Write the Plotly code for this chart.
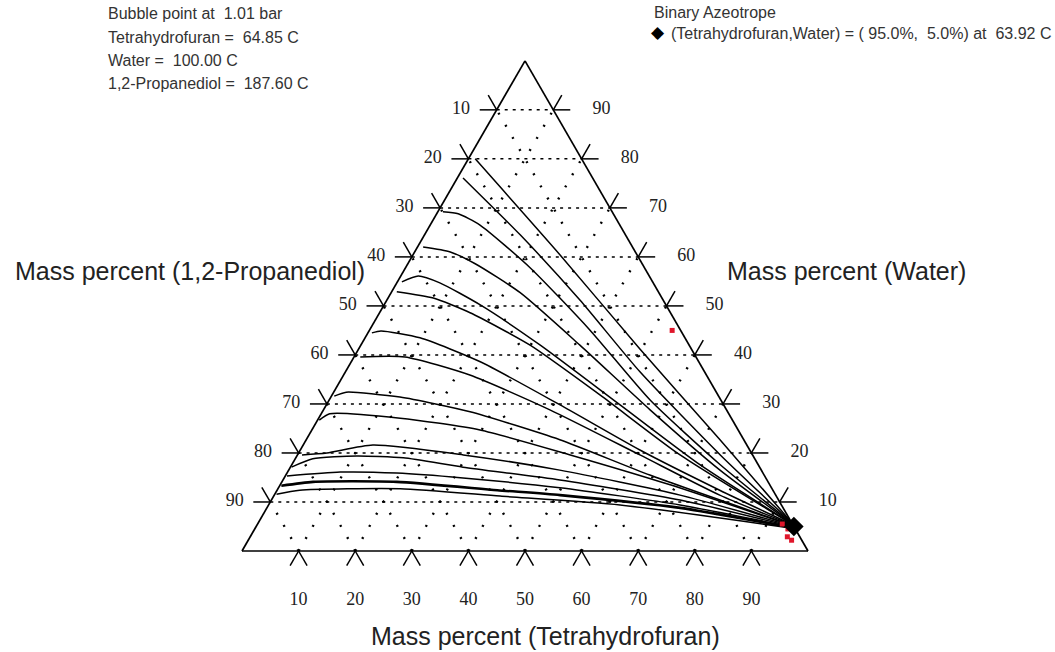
import numpy as np
import plotly.graph_objects as go

# ---------------- data (mass %, given as (Tetrahydrofuran, Water); 1,2-Propanediol = rest) -------------
tick_values = [10, 20, 30, 40, 50, 60, 70, 80, 90]
left_labels = [str(100 - v) for v in tick_values]     # 1,2-Propanediol along left edge (at Water = v)
right_labels = [str(v) for v in tick_values]          # Water along right edge
bottom_labels = [str(v) for v in tick_values]         # Tetrahydrofuran along bottom edge

rc_a = [(1.2, 80.0), (26.0, 60.4), (49.7, 41.2), (73.1, 22.7), (93.6, 6.3)]
rc_b = [(1.0, 76.1), (16.9, 64.5), (34.1, 51.2), (52.1, 36.5), (74.7, 19.6), (93.8, 6.1)]
rc_c = [(0.9, 69.2), (3.8, 68.8), (8.8, 66.5), (22.0, 57.8), (38.9, 45.1), (56.7, 30.8), (75.7, 17.6), (94.0, 5.9)]
rc_d = [(1.0, 62.0), (6.3, 61.0), (11.9, 58.6), (22.8, 52.7), (38.7, 42.0), (57.7, 28.8), (76.2, 16.5), (94.2, 5.7)]
rc_e = [(0.8, 54.9), (3.1, 56.1), (7.6, 54.7), (17.0, 50.2), (31.7, 42.0), (51.9, 29.8), (72.1, 17.6), (94.3, 5.6)]
rc_f = [(0.9, 52.9), (8.0, 51.6), (16.0, 48.6), (29.9, 42.0), (47.4, 31.8), (67.6, 19.6), (94.4, 5.5)]
rc_g = [(0.7, 44.5), (2.1, 44.9), (9.7, 43.5), (22.8, 38.6), (41.3, 29.8), (60.0, 20.6), (78.2, 12.4), (94.5, 5.4)]
rc_h = [(1.1, 39.6), (9.0, 39.6), (22.3, 35.9), (40.0, 28.8), (60.5, 19.6), (78.7, 11.4), (94.6, 5.3)]
rc_i = [(0.5, 31.6), (2.2, 32.4), (12.2, 31.4), (26.1, 28.4), (44.8, 22.7), (64.3, 15.5), (94.7, 5.2)]
rc_j = [(0.3, 26.7), (1.5, 28.0), (14.4, 27.1), (29.7, 24.7), (48.2, 19.6), (68.9, 13.5), (94.8, 5.1)]
rc_k = [(0.8, 19.6), (5.0, 20.0), (12.3, 21.6), (29.3, 19.6), (47.9, 16.5), (71.7, 11.4), (94.9, 5.0)]
rc_l = [(0.2, 17.1), (3.1, 18.8), (10.6, 19.4), (19.0, 19.0), (30.5, 17.1), (48.9, 14.5), (72.2, 10.4), (95.0, 4.9)]
rc_m = [(0.3, 15.3), (9.3, 16.1), (19.4, 15.9), (31.6, 14.9), (49.7, 12.9), (72.7, 9.4), (95.1, 4.8)]
rc_n = [(0.3, 13.3), (5.5, 14.1), (20.3, 14.1), (38.9, 12.4), (50.5, 11.4), (73.0, 8.8), (95.2, 4.7)]
rc_o = [(0.3, 11.6), (4.0, 12.4), (21.6, 12.7), (40.0, 11.2), (62.1, 9.4), (95.3, 4.6)]

red_thf = [53.5, 92.7, 94.2, 94.9, 96.0]
red_water = [45.0, 5.5, 4.5, 2.9, 2.2]

azeo_thf = [95.0]
azeo_water = [5.0]

info_lines = ["Bubble point at  1.01 bar",
              "Tetrahydrofuran =  64.85 C",
              "Water =  100.00 C",
              "1,2-Propanediol =  187.60 C"]
legend_title = "Binary Azeotrope"
legend_text = "(Tetrahydrofuran,Water) = ( 95.0%,  5.0%) at  63.92 C"

# ---------------- geometry helpers ----------------
S3 = np.sqrt(3) / 2.0


def xy(thf, w):
    return thf + w / 2.0, w * S3


def seg_trace(segs, **line):
    xs, ys = [], []
    for (t0, w0), (t1, w1) in segs:
        x0, y0 = xy(t0, w0)
        x1, y1 = xy(t1, w1)
        xs += [x0, x1, None]
        ys += [y0, y1, None]
    return go.Scatter(x=xs, y=ys, mode="lines", line=line, hoverinfo="skip", showlegend=False)


fig = go.Figure()

# grid lines
horiz = [((0, v), (100 - v, v)) for v in tick_values]
const_thf = [((v, 0), (v, 100 - v)) for v in tick_values]
const_pd = [((v, 0), (0, v)) for v in tick_values]
fig.add_trace(seg_trace(horiz, color="black", width=1.5, dash="3px,5px"))
fig.add_trace(seg_trace(const_thf + const_pd, color="black", width=2.4, dash="2px,12px"))

# triangle
fig.add_trace(seg_trace([((0, 0), (100, 0)), ((100, 0), (0, 100)), ((0, 100), (0, 0))],
                        color="black", width=1.7))

# tick marks (extensions of grid lines outside the triangle)
L = 3.0
ticks = []
for v in tick_values:
    ticks += [((0, v), (-L, v)), ((0, v), (-L, v + L))]
    ticks += [((100 - v, v), (100 - v + L, v)), ((100 - v, v), (100 - v, v + L))]
    ticks += [((v, 0), (v, -L)), ((v, 0), (v + L, -L))]
fig.add_trace(seg_trace(ticks, color="black", width=1.5))

# residue curves
for curve in [rc_a, rc_b, rc_c, rc_d, rc_e, rc_f, rc_g, rc_h, rc_i, rc_j, rc_k, rc_l, rc_m, rc_n, rc_o]:
    t = np.array([p[0] for p in curve])
    w = np.array([p[1] for p in curve])
    x, y = xy(t, w)
    wd = 2.6 if curve is rc_n else 1.5
    fig.add_trace(go.Scatter(x=x, y=y, mode="lines", line=dict(color="black", width=wd, shape="spline",
                                                               smoothing=0.6),
                             hoverinfo="skip", showlegend=False))

# red points
rx, ry = xy(np.array(red_thf), np.array(red_water))
fig.add_trace(go.Scatter(x=rx, y=ry, mode="markers",
                         marker=dict(symbol="square", size=5, color="#e0162b"), showlegend=False))

# azeotrope
ax_, ay_ = xy(np.array(azeo_thf), np.array(azeo_water))
fig.add_trace(go.Scatter(x=ax_, y=ay_, mode="markers",
                         marker=dict(symbol="diamond", size=15, color="black"), showlegend=False))

# tick labels
tick_font = dict(family="Liberation Serif", size=18, color="#222")
lx, ly = xy(np.zeros(len(tick_values)), np.array(tick_values, float))
fig.add_trace(go.Scatter(x=lx - 6.3, y=ly, mode="text", text=left_labels, textfont=tick_font,
                         textposition="middle center", showlegend=False, hoverinfo="skip"))
rx2, ry2 = xy(100 - np.array(tick_values, float), np.array(tick_values, float))
fig.add_trace(go.Scatter(x=rx2 + 8.5, y=ry2, mode="text", text=right_labels, textfont=tick_font,
                         textposition="middle center", showlegend=False, hoverinfo="skip"))
bx, by = xy(np.array(tick_values, float), np.zeros(len(tick_values)))
fig.add_trace(go.Scatter(x=bx, y=by - 8.8, mode="text", text=bottom_labels, textfont=tick_font,
                         textposition="middle center", showlegend=False, hoverinfo="skip"))

W, H = 1055, 652
PX = 5.66  # pixels per composition unit


def px(x):
    return x / W


def py(y):
    return 1 - y / H


title_font = dict(family="Liberation Sans, Arial", size=25, color="#222")
ann = [
    dict(text="Mass percent (1,2-Propanediol)", x=px(190), y=py(271), font=title_font),
    dict(text="Mass percent (Water)", x=px(846), y=py(271), font=title_font),
    dict(text="Mass percent (Tetrahydrofuran)", x=px(545), y=py(636), font=title_font),
]
small_font = dict(family="Liberation Sans, Arial", size=16, color="#333")
for i, line in enumerate(info_lines):
    ann.append(dict(text=line.replace("  ", " \u00a0"), x=px(106), y=py(14 + 23 * i),
                    xanchor="left", font=small_font))
ann.append(dict(text=legend_title, x=px(652), y=py(13), xanchor="left", font=small_font))
ann.append(dict(text=legend_text.replace("  ", " \u00a0"), x=px(669), y=py(33), xanchor="left",
                font=small_font))
ann.append(dict(text="\u25c6", x=px(658), y=py(31), font=dict(size=17, color="black")))
for a in ann:
    a.setdefault("xanchor", "center")
    a.update(xref="paper", yref="paper", yanchor="middle", showarrow=False)

fig.update_layout(
    width=W, height=H, autosize=False,
    margin=dict(l=0, r=0, t=0, b=0),
    paper_bgcolor="white", plot_bgcolor="white",
    xaxis=dict(visible=False, range=[-242 / PX, (W - 242) / PX], fixedrange=True),
    yaxis=dict(visible=False, range=[-(H - 551) / PX, 551 / PX], fixedrange=True),
    annotations=ann,
    showlegend=False,
)

fig.write_html("out.html", config={"displayModeBar": False, "staticPlot": True},
               post_script="document.body.style.margin='0px';document.body.style.overflow='hidden';")
